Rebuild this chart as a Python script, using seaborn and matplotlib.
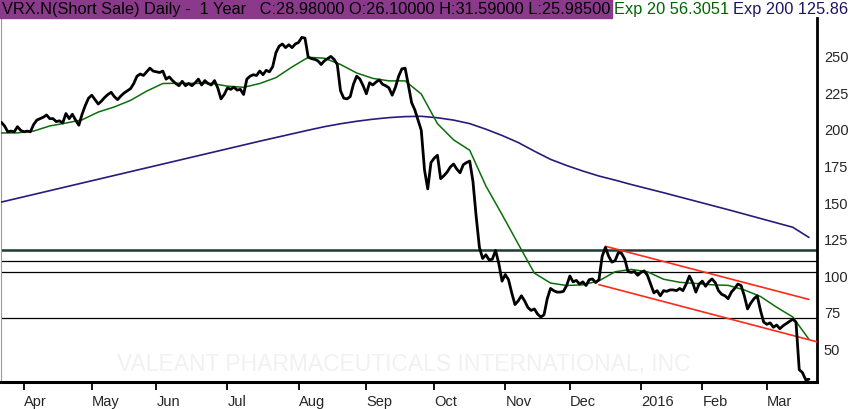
import matplotlib
matplotlib.use("Agg")
import matplotlib.pyplot as plt
import matplotlib.patches as mpatches
import seaborn as sns
import numpy as np
import pandas as pd

# trading calendar of the chart
first_day = "2015-03-23"
last_day = "2016-03-18"
holidays = ["2015-04-03", "2015-05-25", "2015-07-03", "2015-09-07",
            "2015-11-26", "2015-12-25", "2016-01-01", "2016-01-18", "2016-02-15"]

# daily close
close = [
    204.5, 202, 198, 198.5, 198, 201.5, 199, 198, 198.5, 198,
    203, 206, 207, 208, 209.5, 207, 207, 205, 205.5, 204,
    210.5, 207, 210, 206, 202.5, 210, 216, 221, 223, 220,
    217, 219, 221.5, 223.5, 225, 222, 220, 222.5, 224.5, 226,
    227.5, 231, 236, 237.5, 236.5, 239, 241.5, 239.5, 239, 238.5,
    239.5, 234, 235.5, 233, 231, 229.5, 232.5, 229.5, 231, 229.5,
    231.5, 234, 230, 233, 231, 230, 233, 228, 220.5, 223.5,
    228, 227, 228.5, 226.5, 227, 223.5, 234, 236, 237, 236.5,
    239.5, 237, 240, 239, 242.5, 252, 256.5, 258, 255.5, 257.5,
    255.5, 258, 259, 262.5, 262, 249, 248, 247.5, 246.5, 244,
    246.5, 248, 249.5, 247.5, 244, 226, 221, 220.5, 222, 230.5,
    236, 234, 229.5, 224, 231.5, 230, 232, 233.5, 230.5, 229.5,
    228, 223, 228.5, 236, 241, 241.5, 230, 218, 213, 206,
    199, 172, 159, 177, 180, 182, 166, 168, 170.5, 174,
    176, 172.5, 170, 175.5, 177, 178, 164, 140, 119, 111.5,
    114, 110.5, 111, 117, 108, 96, 100.5, 97, 88, 80,
    82.5, 86, 82.5, 78, 76, 77, 73.5, 71.5, 73, 84,
    91, 89.5, 88.5, 88.5, 89, 93, 99.5, 95.5, 96.5, 94,
    95.5, 93, 97, 97.5, 95, 97, 113, 119, 113, 109,
    110, 115.5, 115, 111, 102.5, 102, 102.5, 100, 102, 103,
    100, 94, 88, 89.5, 86, 89.5, 89, 90, 90, 89.5,
    91, 89.5, 94, 99.5, 95, 88.5, 94, 96, 92.5, 95.5,
    97.5, 95, 89.5, 87, 86, 84, 88.5, 91, 94, 93,
    86, 77, 81, 84, 86, 76, 68, 66.5, 67.5, 64.5,
    66, 63.5, 65.5, 67, 68.5, 70, 68, 35.5, 33.5, 28.6,
    28.98,
]

# moving averages, one value every 5th trading day
ema_step = 5
ema20 = [
    197.2, 197.3, 198.5, 202, 204, 206.2, 211.5, 215, 219.5, 225.8,
    231, 231.2, 231.1, 231.1, 229.2, 228.4, 231, 235, 242.3, 248.9,
    248.3, 244, 238.2, 234.5, 232.8, 232.8, 223.8, 203.6, 192.5, 185.4,
    161, 141.5, 121.4, 101.5, 94.7, 93, 93.5, 96.2, 102.4, 104,
    102.4, 97.3, 95.2, 94.4, 93.5, 93.1, 90, 85.5, 78.2, 71.5,
    56.3051,
]
ema200 = [
    150, 152.6, 155.2, 157.8, 160.4, 163, 165.6, 168.2, 170.8, 173.4,
    176, 178.6, 181.2, 183.8, 186.4, 189, 191.6, 194.1, 196.6, 199.1,
    201.5, 203.5, 205.2, 206.6, 207.7, 208.4, 208.6, 207.6, 206, 203.6,
    199.8, 195.5, 190.7, 184.8, 179.2, 175, 171.2, 167.8, 165, 162,
    159.2, 156.4, 153.5, 150.6, 147.7, 144.8, 141.8, 138.8, 135.8, 132.8,
    125.86,
]

# support / resistance levels and the falling channel
levels = [117.5, 109.6, 102.0, 70.6]
upper_dates = ["2015-12-16", "2016-03-18"]
upper_values = [119.8, 83.5]
lower_dates = ["2015-12-14", "2016-03-18"]
lower_values = [93.6, 56.0]

header = "VRX.N(Short Sale) Daily -  1 Year   C:28.98000 O:26.10000 H:31.59000 L:25.98500"
watermark = "VALEANT PHARMACEUTICALS INTERNATIONAL, INC"

days = pd.bdate_range(first_day, last_day, freq="C", holidays=holidays)
df = pd.DataFrame({"date": days, "close": close})
df["i"] = np.arange(len(df))
ema_df = pd.DataFrame({"i": df["i"].values[::ema_step], "ema20": ema20, "ema200": ema200})
pos = {d: k for k, d in enumerate(days)}

sns.set_style("white")
plt.rcParams["font.family"] = ["Liberation Sans", "DejaVu Sans"]

W, H = 850, 410
fig = plt.figure(figsize=(W / 100, H / 100), dpi=100)
ax = fig.add_axes([1 / W, (H - 382.7) / H, 816 / W, (382.7 - 19) / H])

for k, lv in enumerate(levels):
    if k == 0:
        ax.axhline(lv, color="#1f3a34", lw=1.8, zorder=2)
    else:
        ax.axhline(lv, color="black", lw=0.9, zorder=2)

sns.lineplot(data=ema_df, x="i", y="ema200", ax=ax, color="#2a1a7a", lw=1.2, zorder=3)
sns.lineplot(data=ema_df, x="i", y="ema20", ax=ax, color="#0a6e0a", lw=1.1, zorder=4)

xmax = 252.5
ux = [pos[pd.Timestamp(d)] for d in upper_dates]
lx = [pos[pd.Timestamp(d)] for d in lower_dates]
slope = (lower_values[1] - lower_values[0]) / (lx[1] - lx[0])
ax.plot(ux, upper_values, color="#ff2a1a", lw=1.2, zorder=4)
ax.plot([lx[0], xmax], [lower_values[0], lower_values[0] + slope * (xmax - lx[0])],
        color="#ff2a1a", lw=1.2, zorder=4)

sns.lineplot(data=df, x="i", y="close", ax=ax, color="black", lw=2.0, zorder=5)

ax.text(0.494, 0.05, watermark, transform=ax.transAxes, ha="center", va="center",
        fontsize=16.5, color="#f1f1f1", zorder=1)

ax.set_xlim(-0.1, xmax)
ax.set_ylim(27.3, 275.75)

# month ticks at first trading day of each month
month_start = df.groupby([df["date"].dt.year, df["date"].dt.month])["i"].min().values[1:]
labels = []
for k in month_start:
    d = days[k]
    labels.append(str(d.year) if d.month == 1 else d.strftime("%b"))
ax.set_xticks(month_start)
ax.set_xticklabels(labels, ha="left")
ax.tick_params(axis="x", direction="out", length=5.5, width=1.3, color="black",
               labelsize=10.5, pad=3, bottom=True)

ax.yaxis.tick_right()
ax.set_yticks(range(50, 251, 25))
ax.tick_params(axis="y", length=0, pad=5, labelsize=10.5, right=True)
ax.set_xlabel("")
ax.set_ylabel("")

ax.spines["top"].set_visible(False)
ax.spines["left"].set_color("#9a9a9a")
ax.spines["left"].set_linewidth(0.8)
ax.spines["right"].set_color("black")
ax.spines["right"].set_linewidth(2)
ax.spines["bottom"].set_color("black")
ax.spines["bottom"].set_linewidth(2.2)

# header strip
fig.patches.append(mpatches.Rectangle((0, 1 - 19 / H), 612 / W, 19 / H,
                                      transform=fig.transFigure, color="#8b3a8b", zorder=0))
fig.text(2 / W, 1 - 9.5 / H, header, ha="left", va="center", fontsize=11.8, color="black")
fig.text(614 / W, 1 - 9.5 / H, "Exp 20 56.3051", ha="left", va="center", fontsize=11.8, color="#006400")
fig.text(848 / W, 1 - 9.5 / H, "Exp 200 125.86", ha="right", va="center", fontsize=11.8, color="#1c1466")

fig.savefig("out.png", dpi=100)
